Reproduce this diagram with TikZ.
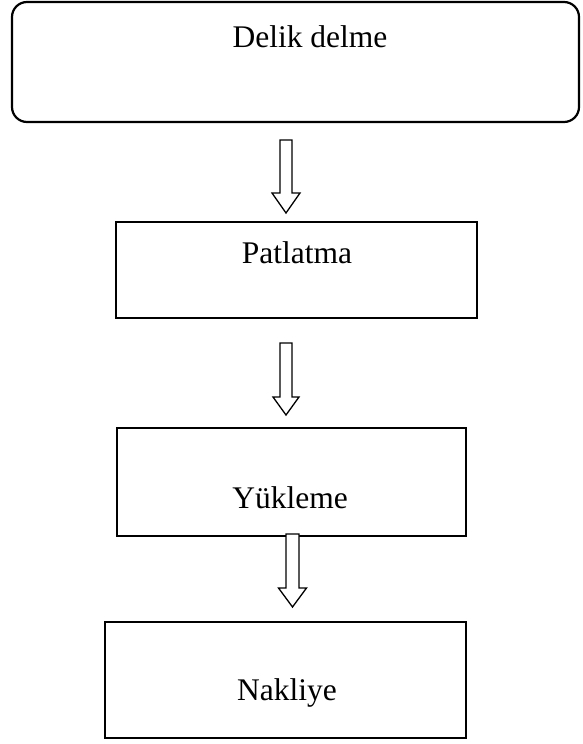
\documentclass[tikz,border=0pt]{standalone}
\usepackage{fontspec}
\setmainfont{Liberation Serif}
\begin{document}
\begin{tikzpicture}[x=1pt,y=-1pt,
  stepbox/.style={draw=black,line width=2.2pt,fill=white},
  steptext/.style={anchor=base,inner sep=0pt,font=\fontsize{31.5}{36}\selectfont},
  blockarrow/.style={draw=black,line width=1.3pt,fill=white,line join=miter}]
\useasboundingbox (0,0) rectangle (582,744);

% process boxes
\draw[stepbox,rounded corners=15pt] (12,2) rectangle (579,122);
\coordinate (b1) at (295,62);
\draw[stepbox] (116,222) rectangle (477,318);
\draw[stepbox] (117,428) rectangle (466,536);
\draw[stepbox] (105,622) rectangle (466,738);

% labels
\node[steptext] (t1) at (310,47) {Delik delme};
\node[steptext] (t2) at (297,263) {Patlatma};
\node[steptext] (t3) at (290,508) {Yükleme};
\node[steptext] (t4) at (287,700) {Nakliye};

% hollow block arrows between the steps
\newcommand{\downarrowblock}[6]{% cx, shaft half, head half, top, head start, tip
  \draw[blockarrow] (#1-#2,#4) -- (#1+#2,#4) -- (#1+#2,#5) -- (#1+#3,#5)
    -- (#1,#6) -- (#1-#3,#5) -- (#1-#2,#5) -- cycle;}
\downarrowblock{286}{6}{14}{140}{193}{213}
\downarrowblock{286}{6}{13}{343}{397}{415}
\downarrowblock{292.5}{6.5}{14}{534}{588}{607}
\end{tikzpicture}
\end{document}
